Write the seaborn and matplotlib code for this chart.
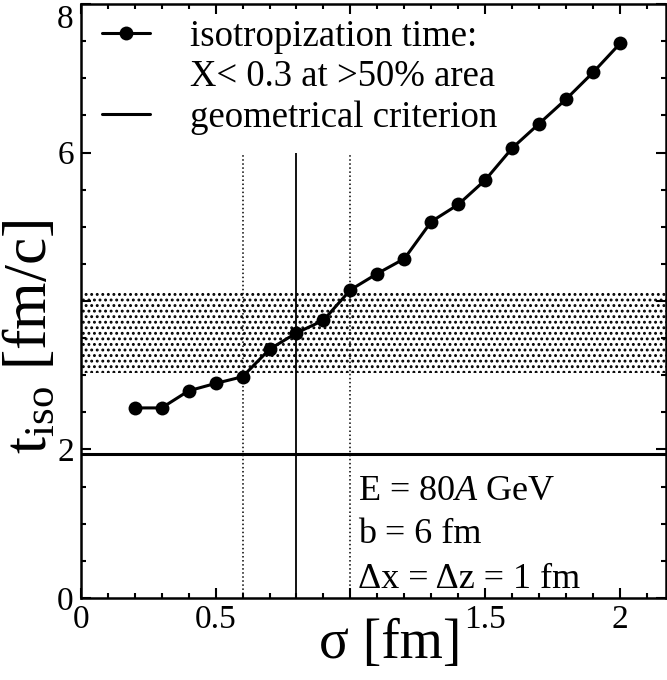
import matplotlib
matplotlib.use("Agg")
import matplotlib.pyplot as plt
from matplotlib.lines import Line2D
from matplotlib.ticker import MultipleLocator
import numpy as np
import pandas as pd
import seaborn as sns

# isotropization time versus Gaussian width sigma
sigma = [0.2, 0.3, 0.4, 0.5, 0.6, 0.7, 0.8, 0.9, 1.0, 1.1,
         1.2, 1.3, 1.4, 1.5, 1.6, 1.7, 1.8, 1.9, 2.0]
t_iso = [2.56, 2.56, 2.79, 2.89, 2.98, 3.35, 3.57, 3.74, 4.15, 4.37,
         4.57, 5.07, 5.30, 5.63, 6.06, 6.39, 6.72, 7.08, 7.47]

# geometrical criterion and the band of isotropization times
t_geom = 1.94
band_low, band_high = 3.03, 4.14
sigma_marks = [0.6, 0.8, 1.0]
sigma_styles = [":", "-", ":"]
sigma_mark_top = 6.0

x_ticks = [0, 0.5, 1, 1.5, 2]
x_ticklabels = ["0", "0.5", "", "1.5", "2"]
y_ticks = [0, 2, 4, 6, 8]
y_ticklabels = ["0", "2", "", "6", "8"]

legend_labels = ["isotropization time:", "X< 0.3 at >50% area", "geometrical criterion"]
info_lines = ["E = 80$\\it{A}$ GeV", "b = 6 fm", "\u0394x = \u0394z = 1 fm"]

sns.set_theme(style="ticks")
plt.rcParams["font.family"] = ["Liberation Serif", "DejaVu Serif"]
plt.rcParams["mathtext.fontset"] = "custom"
plt.rcParams["mathtext.rm"] = "Liberation Serif"
plt.rcParams["mathtext.it"] = "Liberation Serif:italic"
plt.rcParams["hatch.linewidth"] = 1.3
for key in ["text.color", "axes.labelcolor", "xtick.color", "ytick.color",
            "axes.edgecolor"]:
    plt.rcParams[key] = "black"

df = pd.DataFrame({"sigma": sigma, "t_iso": t_iso})

fig = plt.figure(figsize=(6.67, 6.8), dpi=100)
ax = fig.add_axes([0.121, 0.1206, 0.8775, 0.8735])
xmax = 2.17
ax.set_xlim(0, xmax)
ax.set_ylim(0, 8)

# dotted band
ax.fill_between([0, xmax], band_low, band_high, facecolor="none",
                edgecolor="black", hatch="...", linewidth=0, zorder=1)

# vertical sigma markers
for xs, ls in zip(sigma_marks, sigma_styles):
    ax.vlines(xs, 0, sigma_mark_top, colors="black", linestyles=ls,
              linewidth=1.1 if ls == ":" else 1.3, zorder=2)

# geometrical criterion
ax.axhline(t_geom, color="black", linewidth=2.2, zorder=3)

sns.lineplot(data=df, x="sigma", y="t_iso", ax=ax, color="black",
             linewidth=2.2, marker="o", markersize=10, markeredgewidth=0,
             zorder=4, legend=False)

ax.set_xticks(x_ticks)
ax.set_xticklabels(x_ticklabels)
ax.set_yticks(y_ticks)
ax.set_yticklabels(y_ticklabels)
ax.xaxis.set_minor_locator(MultipleLocator(0.1))
ax.yaxis.set_minor_locator(MultipleLocator(0.5))
ax.tick_params(which="both", direction="in", top=True, right=True,
               width=1.5, colors="black", labelsize=24)
ax.tick_params(which="major", length=7)
ax.tick_params(which="minor", length=3.5)
ax.tick_params(axis="x", pad=5)
ax.tick_params(axis="y", pad=5)
ax.get_yticklabels()[-1].set_va("top")
for sp in ax.spines.values():
    sp.set_linewidth(1.8)
    sp.set_color("black")

ax.set_xlabel("\u03c3 [fm]", fontsize=40)
ax.xaxis.set_label_coords(0.528, -0.034)
ax.set_ylabel("t$_{\\rm iso}$ [fm/c]", fontsize=44)
ax.yaxis.set_label_coords(-0.038, 0.44)

handles = [
    Line2D([], [], color="black", linewidth=2.2, marker="o", markersize=10,
           markeredgewidth=0),
    Line2D([], [], color="none"),
    Line2D([], [], color="black", linewidth=2.2),
]
ax.legend(handles, legend_labels, loc="upper left", bbox_to_anchor=(0.036, 0.974),
          frameon=False, fontsize=26.5, handlelength=1.3, handletextpad=1.1,
          labelspacing=0.16, borderpad=0, borderaxespad=0)

for ypos, txt in zip([0.165, 0.0926, 0.0168], info_lines):
    ax.text(0.474, ypos, txt, transform=ax.transAxes, fontsize=26,
            va="baseline", ha="left", color="black")

fig.savefig("out.png", dpi=100)
